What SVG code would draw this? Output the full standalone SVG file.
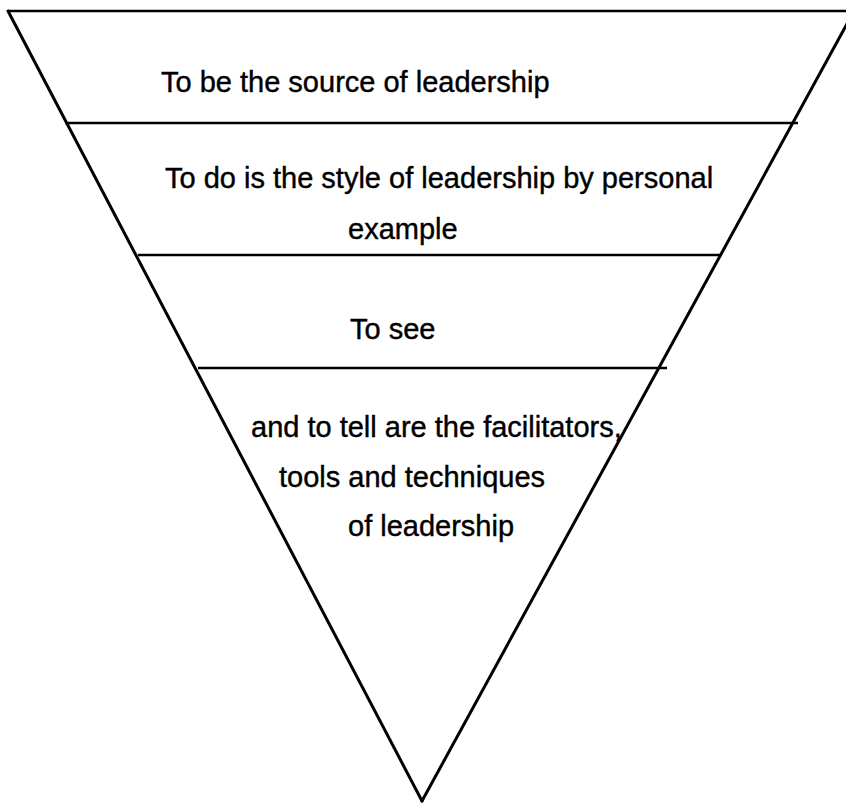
<svg xmlns="http://www.w3.org/2000/svg" width="846" height="804" viewBox="0 0 846 804">
<style>
.edge{stroke:#000;stroke-width:3;fill:none;stroke-linecap:round}
.sep{stroke:#000;stroke-width:2.4;fill:none}
.t{font-family:"Liberation Sans",Arial,sans-serif;font-size:29px;fill:#000;stroke:#000;stroke-width:0.4}
</style>
<rect width="846" height="804" fill="#fff"/>
<g id="connectors">
<line class="sep" x1="8" y1="11" x2="846" y2="11"/>
<line class="edge" x1="8" y1="11" x2="422" y2="801"/>
<line class="edge" x1="422" y1="801" x2="854" y2="11"/>
</g>
<g id="level1">
<line class="sep" x1="65" y1="123" x2="798" y2="123"/>
<text class="t" x="161" y="92">To be the source of leadership</text>
</g>
<g id="level2">
<line class="sep" x1="138" y1="255" x2="722" y2="255"/>
<text class="t" x="165" y="188">To do is the style of leadership by personal</text>
<text class="t" x="348" y="239">example</text>
</g>
<g id="level3">
<line class="sep" x1="198" y1="368" x2="667" y2="368"/>
<text class="t" x="350" y="339">To see</text>
</g>
<g id="level4">
<text class="t" x="251" y="437">and to tell are the facilitators,</text>
<text class="t" x="279" y="487">tools and techniques</text>
<text class="t" x="348" y="536">of leadership</text>
</g>
</svg>
